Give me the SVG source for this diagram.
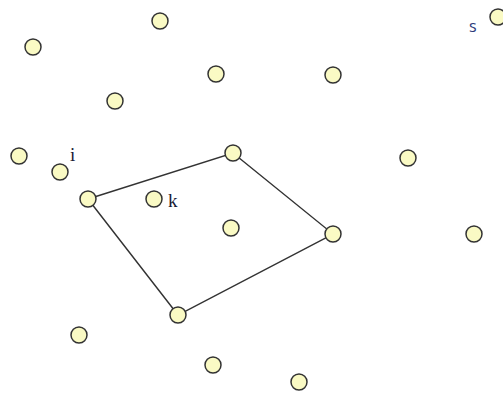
<svg xmlns="http://www.w3.org/2000/svg" width="503" height="394" viewBox="0 0 503 394">
<style>
.n{fill:#fafac4;stroke:#333;stroke-width:1.5}
.e{fill:none;stroke:#333;stroke-width:1.4}
.t{font-family:"Liberation Serif",serif;font-size:19px;fill:#1a1a33}
.s{font-family:"Open Sans","Liberation Sans",sans-serif;font-size:16px;fill:#2b3a7a}
</style>
<rect width="503" height="394" fill="#fff"/>
<g id="connectors">
<polygon class="e" points="88,199 233,153 333,234 178,315"/>
</g>
<g id="n1"><circle class="n" cx="33" cy="47" r="8"/></g>
<g id="n2"><circle class="n" cx="160" cy="21" r="8"/></g>
<g id="n3"><circle class="n" cx="115" cy="101" r="8"/></g>
<g id="n4"><circle class="n" cx="216" cy="74" r="8"/></g>
<g id="n5"><circle class="n" cx="333" cy="75" r="8"/></g>
<g id="s"><circle class="n" cx="498" cy="17" r="8"/><text class="s" x="469" y="32">s</text></g>
<g id="n7"><circle class="n" cx="19" cy="156" r="8"/></g>
<g id="i"><circle class="n" cx="60" cy="172" r="8"/><text class="t" x="70" y="161">i</text></g>
<g id="n9"><circle class="n" cx="88" cy="199" r="8"/></g>
<g id="n10"><circle class="n" cx="233" cy="153" r="8"/></g>
<g id="k"><circle class="n" cx="154" cy="199" r="8"/><text class="t" x="168" y="207">k</text></g>
<g id="n12"><circle class="n" cx="231" cy="228" r="8"/></g>
<g id="n13"><circle class="n" cx="408" cy="158" r="8"/></g>
<g id="n14"><circle class="n" cx="333" cy="234" r="8"/></g>
<g id="n15"><circle class="n" cx="474" cy="234" r="8"/></g>
<g id="n16"><circle class="n" cx="178" cy="315" r="8"/></g>
<g id="n17"><circle class="n" cx="79" cy="335" r="8"/></g>
<g id="n18"><circle class="n" cx="213" cy="365" r="8"/></g>
<g id="n19"><circle class="n" cx="299" cy="382" r="8"/></g>
</svg>
